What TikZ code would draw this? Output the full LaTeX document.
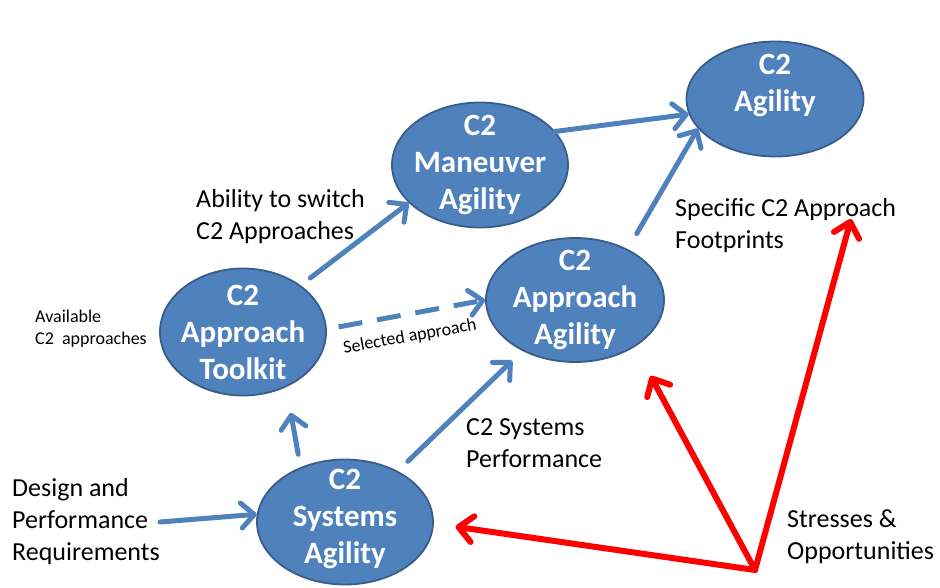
\documentclass[tikz,border=0pt]{standalone}
\usepackage{fontspec}
\setmainfont{Carlito}
\definecolor{blobblue}{RGB}{79, 129, 189}
\definecolor{blobedge}{RGB}{56, 93, 138}
\usetikzlibrary{shapes.geometric, arrows.meta, positioning}

\begin{document}
\begin{tikzpicture}[x=1pt, y=-1pt,
  blob/.style={ellipse, draw=blobedge, fill=blobblue, line width=1.8pt, inner sep=0pt},
  inblob/.style={text=white, font=\fontsize{31}{37}\selectfont\bfseries, align=center},
  tag/.style={font=\fontsize{26}{32}\selectfont, align=left, inner sep=0pt},
  smalltag/.style={font=\fontsize{18}{22}\selectfont, align=left, inner sep=0pt},
  flow/.style={draw=blobblue, line width=5pt, line cap=round, -{Straight Barb[length=13pt, width=25pt, line cap=round, line join=round]}},
  push/.style={draw=red, line width=6pt, line cap=round, -{Straight Barb[length=14pt, width=26pt, line cap=round, line join=round]}}]
  \useasboundingbox (0,0) rectangle (940,588);

  \node[blob, minimum width=177pt, minimum height=115pt, label={[inblob, yshift=14pt]center:C2\\Agility}] (agil) at (775,99) {};
  \node[blob, minimum width=176pt, minimum height=125pt, label={[inblob]center:C2\\Maneuver\\Agility}] (man) at (480,165) {};
  \node[blob, minimum width=178pt, minimum height=124pt, label={[inblob]center:C2\\Approach\\Agility}] (appr) at (575,300) {};
  \node[blob, minimum width=166pt, minimum height=127pt, label={[inblob]center:C2\\Approach\\Toolkit}] (tool) at (243,332) {};
  \node[blob, minimum width=176pt, minimum height=125pt, label={[inblob, yshift=3pt]center:C2\\Systems\\Agility}] (sys) at (345,522) {};

  \node[smalltag, anchor=west] (avail) at (35,329) {Available\\C2~~approaches};
  \node[tag, anchor=west] (switch) at (196,217) {Ability to switch\\C2 Approaches};
  \node[smalltag, rotate=10] (sel) at (410,337) {Selected approach};
  \node[tag, anchor=west] (perf) at (466,443) {C2 Systems\\Performance};
  \node[tag, anchor=west] (fp) at (675,226) {Specific C2 Approach\\Footprints};
  \node[tag, anchor=west] (stress) at (787,537) {Stresses \&\\Opportunities};
  \node[tag, anchor=west] (req) at (12,522) {Design and\\Performance\\Requirements};

  \coordinate (so) at (755,570);
  \coordinate (fptip) at (851,219);

  \draw[flow] (man.24) -- (agil.190);
  \draw[flow, shorten <=18pt] (appr.44) -- (agil.201);
  \draw[flow, shorten <=12pt] (tool.39) -- (man.208);
  \draw[flow, line cap=butt, dash pattern=on 24pt off 15pt, shorten <=12pt] (tool.2) -- (appr.180);
  \draw[flow, shorten <=13pt, shorten >=26pt] (sys.129) -- (tool.308);
  \draw[flow, shorten <=14pt, shorten >=14pt] (sys.44) -- (appr.224);
  \draw[flow] (req.east) -- (sys.175);

  \draw[push, shorten >=22pt] (so) -- (sys.-1);
  \draw[push, shorten >=33pt] (so) -- (appr.322);
  \draw[push] (so) -- (fptip);
\end{tikzpicture}
\end{document}
